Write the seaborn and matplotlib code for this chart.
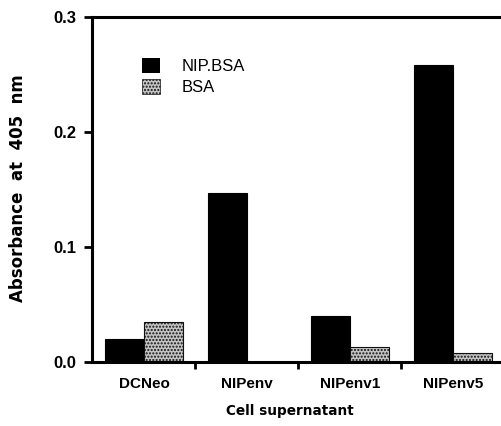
import matplotlib
matplotlib.use("Agg")
import matplotlib.pyplot as plt
import seaborn as sns
import pandas as pd

# valores
celulas = ['DCNeo', 'NIPenv', 'NIPenv1', 'NIPenv5']
nip_bsa = [0.020, 0.147, 0.040, 0.258]
bsa = [0.035, 0.0, 0.013, 0.008]

df = pd.DataFrame({
    'Cell supernatant': celulas * 2,
    'Absorbance': nip_bsa + bsa,
    'Antigen': ['NIP.BSA'] * 4 + ['BSA'] * 4,
})

sns.set_style('ticks')
plt.rcParams['font.family'] = ['Liberation Sans', 'DejaVu Sans']
for clave in ['text.color', 'axes.labelcolor', 'xtick.color', 'ytick.color']:
    plt.rcParams[clave] = 'black'

fig = plt.figure(figsize=(5.01, 4.26), dpi=100)
ax = fig.add_axes([0.1836, 0.150, 0.8164, 0.810])

sns.barplot(data=df, x='Cell supernatant', y='Absorbance', hue='Antigen',
            palette={'NIP.BSA': 'black', 'BSA': '#c4c4c4'},
            width=0.76, gap=0, saturation=1, edgecolor='black', linewidth=0.8,
            errorbar=None, ax=ax)

# patron punteado para BSA
for barra in ax.containers[1]:
    barra.set_hatch('.....')
    barra.set_edgecolor('#111111')

ax.set_ylim(0, 0.3)
ax.set_xlim(-0.506, 3.47)
ax.set_yticks([0.0, 0.1, 0.2, 0.3])
ax.set_yticklabels(['0.0', '0.1', '0.2', '0.3'], fontsize=12, fontweight='bold')

# marcas entre grupos, etiquetas en el centro
ax.set_xticks([0.5, 1.5, 2.5])
ax.set_xticklabels([])
ax.set_xticks(range(len(celulas)), minor=True)
ax.set_xticklabels(celulas, minor=True, fontsize=11, fontweight='bold')
ax.tick_params(axis='x', which='minor', length=0, pad=11)
ax.tick_params(axis='x', which='major', length=5, width=2, direction='out')
ax.tick_params(axis='y', length=6, width=2, pad=5)

for lado in ['left', 'bottom', 'top']:
    ax.spines[lado].set_linewidth(2.2)
    ax.spines[lado].set_color('black')
ax.spines['right'].set_visible(False)

ax.set_xlabel('Cell supernatant', fontsize=9.8, fontweight='bold',
              family='DejaVu Sans', va='top')
ax.xaxis.set_label_coords(0.485, -0.12)
ax.set_ylabel('Absorbance  at  405  nm', fontsize=12, fontweight='bold',
              family='DejaVu Sans')
ax.yaxis.set_label_coords(-0.158, 0.505)

leg = ax.legend(loc='upper left', bbox_to_anchor=(0.122, 0.882), frameon=False,
                fontsize=12, handlelength=1.08, handleheight=1.0, handletextpad=1.3,
                labelspacing=0.3, borderpad=0, borderaxespad=0)
leg.legend_handles[0].set_linewidth(0)
leg.legend_handles[1].set_hatch('.....')
leg.legend_handles[1].set_edgecolor('#111111')
leg.legend_handles[1].set_linewidth(0.5)

fig.savefig('out.png', dpi=100)
